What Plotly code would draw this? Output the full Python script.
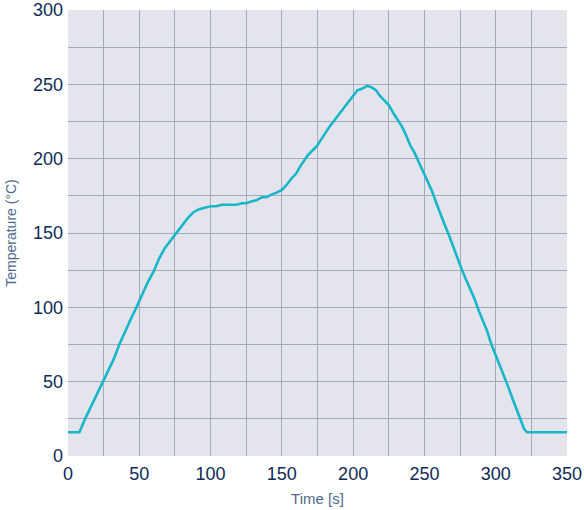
import plotly.graph_objects as go

# Reflow oven temperature profile
time_s = [0, 8, 12, 16, 20, 24, 28, 32, 36, 40, 44, 48, 52, 56, 60, 64, 68, 72, 75,
          78, 81, 84, 88, 92, 96, 100, 104, 108, 113, 118, 122, 125, 128, 132, 136, 139,
          143, 146, 150, 153, 157, 160, 163, 165, 168, 172, 175, 179, 183, 187, 191, 195,
          200, 203, 206, 210, 213, 216, 219, 222, 225, 228, 231, 234, 237, 240, 243, 246,
          249, 252, 255, 258, 261, 264, 267, 270, 273, 276, 279, 282, 285, 288, 291, 294,
          297, 300, 303, 306, 309, 312, 315, 318, 320, 322, 323, 330, 340, 350]
temperature_c = [16, 16, 25, 33, 42, 50, 57, 65, 75, 84, 92, 100, 109, 117, 124, 133, 140, 145, 149,
                 153, 157, 160, 164, 166, 167, 168, 168, 169, 169, 169, 170, 170, 171, 172, 174, 174,
                 176, 177, 179, 182, 187, 190, 195, 198, 202, 206, 209, 215, 221, 226, 231, 236,
                 243, 246, 247, 249, 248, 246, 242, 239, 236, 231, 226, 222, 216, 209, 204, 198,
                 191, 185, 179, 171, 163, 156, 149, 141, 134, 126, 119, 113, 106, 98, 91, 84,
                 75, 68, 60, 53, 46, 38, 31, 23, 18, 16, 16, 16, 16, 16]

x_ticks = [0, 50, 100, 150, 200, 250, 300, 350]
y_ticks = [0, 50, 100, 150, 200, 250, 300]

LINE_COLOR = "#17B7C8"
GRID_COLOR = "#A2ABBE"
TICK_COLOR = "#0E2A55"
TITLE_COLOR = "#4F6A8C"
FONT = "Arial, Liberation Sans, sans-serif"

fig = go.Figure(
    go.Scatter(
        x=time_s,
        y=temperature_c,
        mode="lines",
        line=dict(color=LINE_COLOR, width=2.6),
        hoverinfo="x+y",
    )
)

axis_common = dict(
    showgrid=True,
    gridcolor=GRID_COLOR,
    gridwidth=1.3,
    zeroline=False,
    showline=False,
    ticks="",
    automargin=False,
    tickfont=dict(family=FONT, size=18, color=TICK_COLOR),
    minor=dict(showgrid=True, gridcolor=GRID_COLOR, gridwidth=1.3, dtick=25),
)

fig.update_xaxes(
    range=[0, 350],
    tickvals=x_ticks,
    ticklabelstandoff=5,
    title=dict(text="Time [s]", font=dict(family=FONT, size=15, color=TITLE_COLOR), standoff=10),
    **axis_common,
)
fig.update_yaxes(
    range=[0, 300],
    tickvals=y_ticks,
    ticklabelstandoff=4,
    title=dict(text="Temperature (°C)", font=dict(family=FONT, size=14, color=TITLE_COLOR), standoff=13),
    **axis_common,
)

fig.update_layout(
    width=584,
    height=510,
    margin=dict(l=68, r=17, t=10, b=54),
    plot_bgcolor="#E4E4ED",
    paper_bgcolor="white",
    showlegend=False,
)

fig.write_html("out.html")
